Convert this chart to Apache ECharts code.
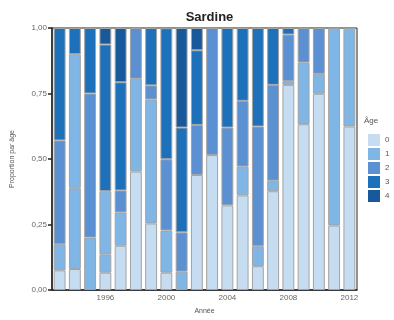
<!DOCTYPE html>
<html>
<head>
<meta charset="utf-8">
<script src="https://cdn.jsdelivr.net/npm/echarts@6/dist/echarts.min.js"></script>
<style>
  html, body { margin: 0; padding: 0; background: #fff; }
  #chart { width: 394px; height: 320px; }
</style>
</head>
<body>
<div id="chart"></div>
<script>
var years = ['1993', '1994', '1995', '1996', '1997', '1998', '1999', '2000', '2001', '2002',
             '2003', '2004', '2005', '2006', '2007', '2008', '2009', '2010', '2011', '2012'];
var shownYears = ['1996', '2000', '2004', '2008', '2012'];
var ageNames = ['0', '1', '2', '3', '4'];

// proportion of each age class per year
var age0 = [0.075, 0.08, 0, 0.066, 0.169, 0.452, 0.254, 0.066, 0, 0.439, 0.515, 0.323, 0.361, 0.091, 0.377, 0.783, 0.633, 0.749, 0.246, 0.624];
var age1 = [0.10, 0.31, 0.20, 0.069, 0.127, 0.354, 0.473, 0.161, 0.07, 0, 0, 0, 0.11, 0.076, 0.04, 0.014, 0.235, 0.076, 0.754, 0.376];
// second age-1 block drawn separately in two years of the original
var age1b = [0, 0.51, 0, 0.242, 0, 0, 0, 0, 0, 0, 0, 0, 0, 0, 0, 0, 0, 0, 0, 0];
var age2 = [0.396, 0, 0.55, 0, 0.084, 0.194, 0.054, 0.272, 0.15, 0.191, 0.485, 0.297, 0.251, 0.457, 0.366, 0.178, 0.132, 0.175, 0, 0];
var age3 = [0.429, 0.10, 0.25, 0.56, 0.413, 0, 0.219, 0.50, 0.40, 0.285, 0, 0.38, 0.278, 0.376, 0.217, 0.025, 0, 0, 0, 0];
var age4 = [0, 0, 0, 0.063, 0.207, 0, 0, 0, 0.38, 0.085, 0, 0, 0, 0, 0, 0, 0, 0, 0, 0];

var colors = {'0': '#c6dcf1', '1': '#80b6e5', '2': '#5b91d3', '3': '#1d71ba', '4': '#17599a'};

var chart = echarts.init(document.getElementById('chart'));

function makeSeries(name, values) {
    return {
        name: name,
        type: 'bar',
        stack: 'age',
        barCategoryGap: '22%',
        itemStyle: {
            color: colors[name],
            borderColor: '#a3a3a3',
            borderWidth: 1
        },
        emphasis: { disabled: true },
        data: values.map(function (v) { return v > 0 ? v : null; })
    };
}

var option = {
    animation: false,
    textStyle: { fontFamily: 'Liberation Sans, Arial, sans-serif' },
    title: [{
        text: 'Sardine',
        left: 204.5,
        top: 6,
        textAlign: 'center',
        textStyle: { fontSize: 13, fontWeight: 'bold', color: '#222' }
    }, {
        text: 'Âge',
        left: 364,
        top: 117,
        padding: 0,
        textStyle: { fontSize: 8, fontWeight: 'normal', color: '#555' }
    }],
    grid: {
        left: 52, right: 37, top: 28, bottom: 24,
        show: true,
        borderColor: '#222',
        borderWidth: 1
    },
    legend: {
        data: ageNames,
        orient: 'vertical',
        left: 368,
        top: 134,
        padding: 0,
        itemWidth: 12,
        itemHeight: 12,
        itemGap: 2,
        icon: 'rect',
        itemStyle: { borderWidth: 0 },
        textStyle: { fontSize: 8, color: '#555' }
    },
    xAxis: {
        type: 'category',
        data: years,
        name: 'Année',
        nameLocation: 'middle',
        nameGap: 18,
        nameTextStyle: { fontSize: 7, color: '#555' },
        axisLine: { lineStyle: { color: '#222', width: 1.5 } },
        axisTick: {
            alignWithLabel: true,
            length: 4,
            lineStyle: { color: '#222', width: 1.5 },
            interval: function (i, v) { return shownYears.indexOf(v) !== -1; }
        },
        axisLabel: {
            fontSize: 8,
            color: '#666',
            margin: 4,
            interval: function (i, v) { return shownYears.indexOf(v) !== -1; }
        }
    },
    yAxis: {
        type: 'value',
        min: 0,
        max: 1,
        interval: 0.25,
        name: 'Proportion par âge',
        nameLocation: 'middle',
        nameGap: 36,
        nameTextStyle: { fontSize: 7, color: '#555' },
        splitLine: { show: false },
        axisLine: { show: true, lineStyle: { color: '#222', width: 1.5 } },
        axisTick: { show: true, length: 4, lineStyle: { color: '#222', width: 1.5 } },
        axisLabel: {
            fontSize: 8,
            color: '#666',
            margin: 5,
            formatter: function (v) { return v.toFixed(2).replace('.', ','); }
        }
    },
    series: [
        makeSeries('0', age0),
        makeSeries('1', age1),
        makeSeries('1', age1b),
        makeSeries('2', age2),
        makeSeries('3', age3),
        makeSeries('4', age4)
    ]
};

chart.setOption(option);
</script>
</body>
</html>
